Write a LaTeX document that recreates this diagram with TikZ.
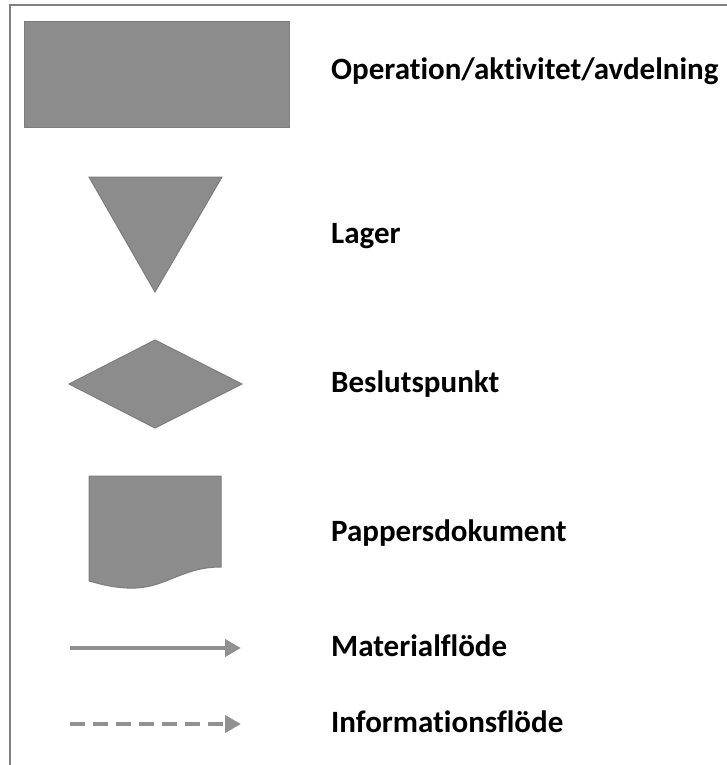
\documentclass[tikz,border=0pt]{standalone}
\usepackage{fontspec}
\setmainfont[Ligatures={NoCommon}]{Carlito}
\usetikzlibrary{arrows.meta}
\definecolor{shapegray}{RGB}{140,140,140}
\definecolor{edgegray}{RGB}{125,125,125}
\definecolor{framegray}{RGB}{128,128,128}
\definecolor{arrowgray}{RGB}{145,145,145}
\tikzset{
  shapefill/.style={fill=shapegray, draw=edgegray, line width=1pt},
  lbl/.style={anchor=base west, inner sep=0pt, font=\fontsize{31}{36}\selectfont\bfseries, text=black},
  flow/.style={draw=arrowgray, line width=4pt, -{Triangle[length=16pt,width=17pt]}},
  infoflow/.style={flow, dash pattern=on 15pt off 8pt},
}
\begin{document}
\begin{tikzpicture}[x=1pt,y=-1pt]
\useasboundingbox (0,0) rectangle (727,765);
% frame
\draw[framegray, line width=1.5pt] (10,765) -- (10,5) -- (727,5);
% rectangle
\draw[shapefill] (24,22) rectangle (289,128);
% triangle
\draw[shapefill] (89,177) -- (222,177) -- (155,292) -- cycle;
% diamond
\draw[shapefill] (69,384) -- (155,340) -- (242,384) -- (155,428) -- cycle;
% document
\draw[shapefill] (89,476) -- (221,476) -- (221,567)
  .. controls (180,567) and (165,590) .. (127,588)
  .. controls (108,587) and (97,583) .. (89,581) -- cycle;
% arrows
\coordinate (m1) at (70,648);
\coordinate (m2) at (241,648);
\coordinate (i1) at (70,724);
\coordinate (i2) at (241,724);
\draw[flow] (m1) -- (m2);
\draw[infoflow] (i1) -- (i2);
% labels
\node[lbl] (op) at (331,80) {Operation/aktivitet/avdelning};
\node[lbl] (lager) at (331,243) {Lager};
\node[lbl] (beslut) at (331,392) {Beslutspunkt};
\node[lbl] (papper) at (331,541) {Pappersdokument};
\node[lbl] (mat) at (331,656) {Materialflöde};
\node[lbl] (info) at (331,732) {Informationsflöde};
\end{tikzpicture}
\end{document}
